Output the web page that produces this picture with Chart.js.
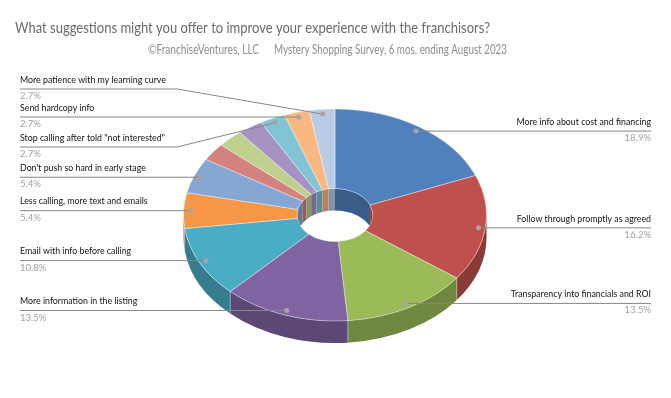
<!DOCTYPE html>
<html>
<head>
<meta charset="utf-8">
<script src="https://cdn.jsdelivr.net/npm/chart.js@4"></script>
<style>
  html, body { margin: 0; padding: 0; background: #fff; }
  canvas { display: block; }
</style>
</head>
<body>
<canvas id="chart" width="671" height="398"></canvas>
<script>
// survey answers (37 responses), slices clockwise from 12 o'clock
const categories = [
    'More info about cost and financing',
    'Follow through promptly as agreed',
    'Transparency into financials and ROI',
    'More information in the listing',
    'Email with info before calling',
    'Less calling, more text and emails',
    "Don't push so hard in early stage",
    '',
    '',
    '',
    'Stop calling after told "not interested"',
    'Send hardcopy info',
    'More patience with my learning curve'
];
const responses = [7, 6, 5, 5, 4, 2, 2, 1, 1, 1, 1, 1, 1];
const sliceColors = ['#4F81BD', '#C0504D', '#9BBB59', '#8064A2', '#4BACC6', '#F79646',
    '#86A6D4', '#D4827F', '#BDD08E', '#A793C3', '#80C4D6', '#F9B882', '#B9CCE4'];

const titleText = 'What suggestions might you offer to improve your experience with the franchisors?';
const creditText = '\u00A9FranchiseVentures, LLC';
const surveyText = 'Mystery Shopping Survey, 6 mos. ending August 2023';

// 3d look
const tilt = 0.7;
const depth = 22;
const font = 'Lato, "Open Sans", sans-serif';

// label placement: side and, for bent leaders, the y of the horizontal part
const labelSide = ['R', 'R', 'R', 'L', 'L', 'L', 'L', null, null, null, 'L', 'L', 'L'];
const bentLineY = { 10: 147, 12: 89 };

const total = responses.reduce((a, b) => a + b, 0);

function shade(hex, k) {
    const n = parseInt(hex.slice(1), 16);
    const r = Math.round(((n >> 16) & 255) * k);
    const g = Math.round(((n >> 8) & 255) * k);
    const b = Math.round((n & 255) * k);
    return `rgb(${r},${g},${b})`;
}

function squeeze(ctx, text, x, y, k) {
    ctx.fillText(text, x, y, ctx.measureText(text).width * k);
}

const tiltPlugin = {
    id: 'tilt',
    beforeDatasetsDraw(chart) {
        const ctx = chart.ctx;
        const arcs = chart.getDatasetMeta(0).data;
        const cx = arcs[0].x, cy = arcs[0].y;
        ctx.save();
        arcs.forEach((arc, i) => {
            ctx.fillStyle = shade(sliceColors[i], 0.72);
            const R = arc.outerRadius, r = arc.innerRadius;
            // outer wall, front half
            const a0 = Math.max(arc.startAngle, 0), a1 = Math.min(arc.endAngle, Math.PI);
            if (a1 > a0) {
                ctx.beginPath();
                ctx.ellipse(cx, cy, R, R * tilt, 0, a0, a1);
                ctx.ellipse(cx, cy + depth, R, R * tilt, 0, a1, a0, true);
                ctx.closePath();
                ctx.fill();
                // seam where the slice starts
                if (arc.startAngle > 0 && arc.startAngle < Math.PI) {
                    const sx = cx + R * Math.cos(arc.startAngle);
                    const sy = cy + R * Math.sin(arc.startAngle) * tilt;
                    ctx.strokeStyle = 'rgba(255,255,255,0.35)';
                    ctx.lineWidth = 1;
                    ctx.beginPath();
                    ctx.moveTo(sx, sy);
                    ctx.lineTo(sx, sy + depth);
                    ctx.stroke();
                }
            }
            // inner wall, back half (seen through the hole)
            [[-Math.PI / 2, 0], [Math.PI, 1.5 * Math.PI]].forEach(([lo, hi]) => {
                const b0 = Math.max(arc.startAngle, lo), b1 = Math.min(arc.endAngle, hi);
                if (b1 > b0) {
                    ctx.beginPath();
                    ctx.ellipse(cx, cy, r, r * tilt, 0, b0, b1);
                    ctx.ellipse(cx, cy + depth, r, r * tilt, 0, b1, b0, true);
                    ctx.closePath();
                    ctx.fill();
                }
            });
        });
        ctx.restore();
        ctx.save();
        ctx.translate(cx, cy);
        ctx.scale(1, tilt);
        ctx.translate(-cx, -cy);
    },
    afterDatasetsDraw(chart) {
        chart.ctx.restore();
    }
};

const textPlugin = {
    id: 'texts',
    afterDraw(chart) {
        const ctx = chart.ctx;
        ctx.save();
        ctx.textBaseline = 'middle';

        ctx.fillStyle = '#6b6b6b';
        ctx.textAlign = 'left';
        ctx.font = '16px ' + font;
        ctx.fillText(titleText, 15, 28, 475);
        ctx.fillStyle = '#8c8c8c';
        ctx.font = '13px ' + font;
        ctx.fillText(creditText, 148, 50, 111);
        ctx.fillText(surveyText, 274, 50, 233);

        const arcs = chart.getDatasetMeta(0).data;
        arcs.forEach((arc, i) => {
            const side = labelSide[i];
            if (!side) return;
            const mid = (arc.startAngle + arc.endAngle) / 2;
            const rr = arc.outerRadius * 0.955;
            const px = arc.x + rr * Math.cos(mid);
            const py = arc.y + rr * Math.sin(mid) * tilt;
            const lineY = bentLineY[i] !== undefined ? bentLineY[i] : py;

            ctx.strokeStyle = '#868686';
            ctx.lineWidth = 1;
            ctx.beginPath();
            let tx;
            if (side === 'L') {
                tx = 20;
                ctx.moveTo(tx, lineY);
                if (lineY !== py) ctx.lineTo(177, lineY);
                ctx.lineTo(px, py);
                ctx.textAlign = 'left';
            } else {
                tx = 651;
                ctx.moveTo(px, py);
                ctx.lineTo(tx, py);
                ctx.textAlign = 'right';
            }
            ctx.stroke();

            ctx.fillStyle = '#a5a5a5';
            ctx.beginPath();
            ctx.arc(px, py, 2.5, 0, Math.PI * 2);
            ctx.fill();

            ctx.fillStyle = '#111111';
            ctx.font = '10px ' + font;
            squeeze(ctx, categories[i], tx, lineY - 9.5, 0.88);
            ctx.fillStyle = '#a0a0a0';
            ctx.font = '9.5px ' + font;
            ctx.fillText((responses[i] / total * 100).toFixed(1) + '%', tx, lineY + 7);
        });
        ctx.restore();
    }
};

new Chart(document.getElementById('chart'), {
    type: 'doughnut',
    data: {
        labels: categories,
        datasets: [{
            data: responses,
            backgroundColor: sliceColors,
            borderColor: 'rgba(255,255,255,0.45)',
            borderWidth: 1,
            clip: false
        }]
    },
    options: {
        responsive: false,
        animation: false,
        events: [],
        cutout: '25%',
        layout: { padding: { left: 183, right: 184, top: 63, bottom: 31 } },
        plugins: {
            legend: { display: false },
            tooltip: { enabled: false },
            title: { display: false }
        }
    },
    plugins: [tiltPlugin, textPlugin]
});
</script>
</body>
</html>
